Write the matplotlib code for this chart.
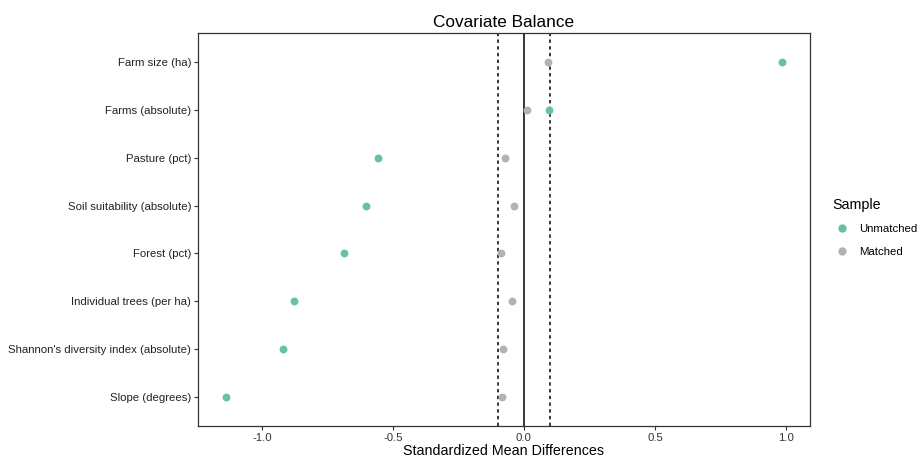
import matplotlib
matplotlib.use("Agg")
import matplotlib.pyplot as plt
from matplotlib.lines import Line2D

covariates = ["Farm size (ha)", "Farms (absolute)", "Pasture (pct)",
              "Soil suitability (absolute)", "Forest (pct)",
              "Individual trees (per ha)", "Shannon's diversity index (absolute)",
              "Slope (degrees)"]
unmatched = [0.985, 0.096, -0.558, -0.604, -0.686, -0.879, -0.920, -1.137]
matched = [0.093, 0.012, -0.072, -0.038, -0.088, -0.045, -0.081, -0.083]
thresholds = [-0.1, 0.1]
xticks = [-1.0, -0.5, 0.0, 0.5, 1.0]
xticklabels = ["-1.0", "-0.5", "0.0", "0.5", "1.0"]

col_un = "#66C2A5"
col_ma = "#B3B3B3"

plt.rcParams['font.family'] = ['Liberation Sans', 'DejaVu Sans']

fig = plt.figure(figsize=(9.2, 4.62), dpi=100)
ax = fig.add_axes([198/920, 1-426/462, 612/920, 393/462])

n = len(covariates)
ypos = [n - i for i in range(n)]

ax.axvline(0, color="black", lw=1.1, zorder=1)
for t in thresholds:
    ax.axvline(t, color="black", lw=1.1, ls=(0, (2.2, 2.2)), zorder=1)

ax.scatter(unmatched, ypos, s=32, color=col_un, zorder=3, linewidths=0)
ax.scatter(matched, ypos, s=32, color=col_ma, zorder=4, linewidths=0)

ax.set_xlim(-1.244, 1.092)
ax.set_ylim(0.4, n + 0.6)
ax.set_yticks(ypos)
ax.set_yticklabels(covariates, fontsize=8.2, color="#222222")
ax.set_xticks(xticks)
ax.set_xticklabels(xticklabels, fontsize=8.2, color="#333333")
ax.tick_params(axis="both", length=3, width=0.8, color="#333333", pad=2)
for sp in ax.spines.values():
    sp.set_color("#333333")
    sp.set_linewidth(0.9)

ax.set_title("Covariate Balance", fontsize=12.4, pad=4)
ax.set_xlabel("Standardized Mean Differences", fontsize=10.3, labelpad=1)

handles = [Line2D([], [], marker="o", ls="", color=col_un, markersize=5, label="Unmatched"),
           Line2D([], [], marker="o", ls="", color=col_ma, markersize=5, label="Matched")]
leg = fig.legend(handles=handles, title="Sample", loc="upper left",
                 bbox_to_anchor=(827/920, 1-192/462), frameon=False,
                 fontsize=8.2, title_fontsize=10.3, handletextpad=0.7,
                 labelspacing=1.1, borderpad=0, handlelength=1.6)
leg._legend_box.align = "left"

fig.savefig("out.png", dpi=100)
